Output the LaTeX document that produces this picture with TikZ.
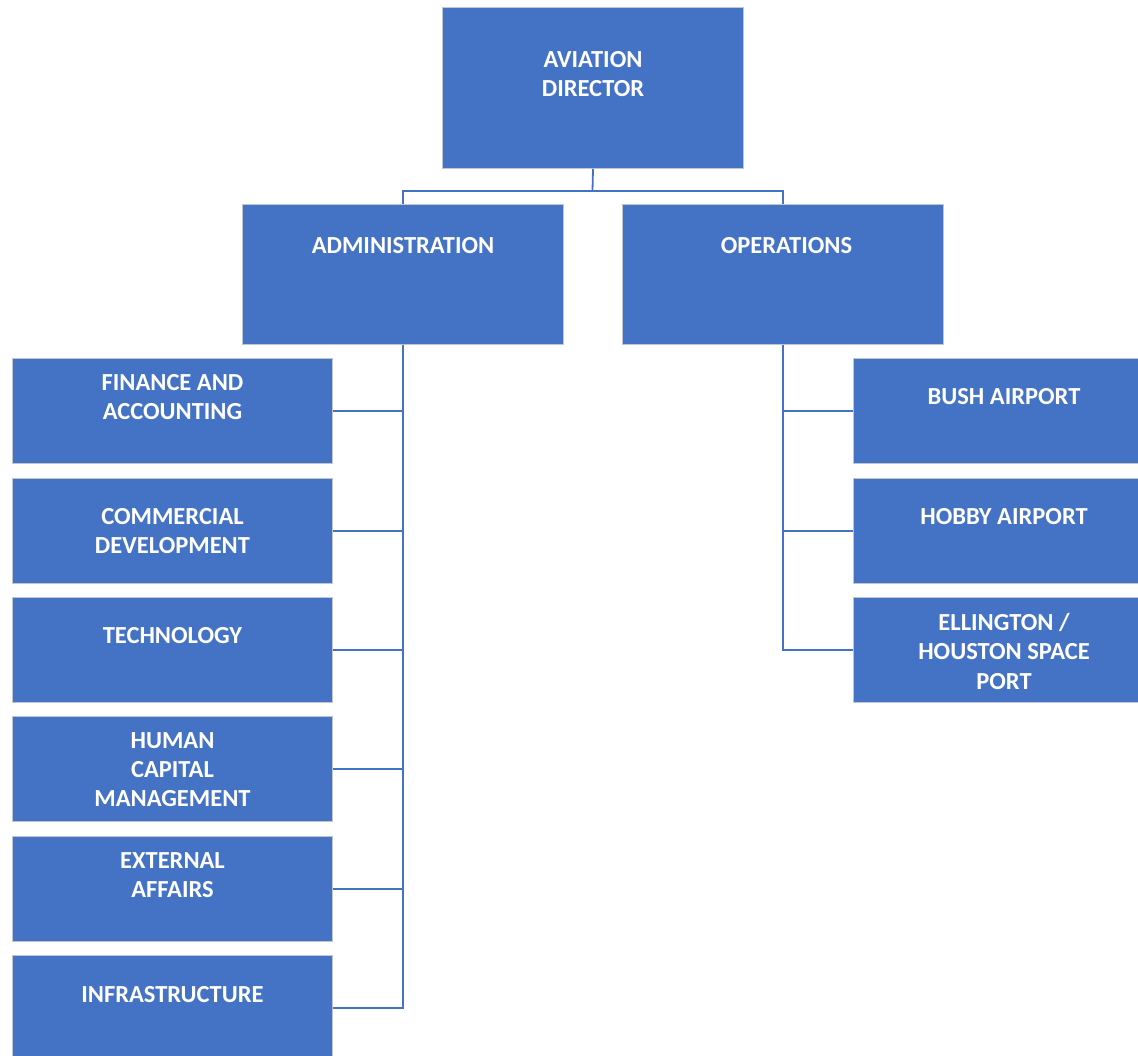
\documentclass[tikz,border=0pt]{standalone}
\usepackage{fontspec}
\setmainfont{Carlito}
\definecolor{boxblue}{HTML}{4472C4}
\definecolor{boxedge}{HTML}{C0C6CF}
\tikzset{
  box/.style={draw=boxedge, line width=1pt, fill=boxblue, anchor=north west, inner sep=0pt,
              minimum width=320pt, minimum height=105pt},
  lbl/.style={anchor=north, inner sep=0pt, text=white, align=center,
              font=\fontsize{24.5}{29.2}\selectfont\bfseries},
  conn/.style={draw=boxblue, line width=1.8pt}
}
\begin{document}
\begin{tikzpicture}[x=1pt,y=-1pt]
\useasboundingbox (0,0) rectangle (1138,1056);
\clip (0,0) rectangle (1138,1056);
% top
\node[box, minimum width=301pt, minimum height=161pt, label={[lbl,yshift=-44.3pt]north:AVIATION\\DIRECTOR}] (dir) at (442,7) {};
\node[box, minimum width=321pt, minimum height=140pt, label={[lbl,yshift=-33.3pt]north:ADMINISTRATION}] (adm) at (242,204) {};
\node[box, minimum width=321pt, minimum height=140pt, label={[lbl,yshift=-33.3pt,xshift=3.5pt]north:OPERATIONS}] (ops) at (622,204) {};
% left column
\node[box, label={[lbl,yshift=-16.3pt]north:FINANCE AND\\ACCOUNTING}] (fin) at (12,358) {};
\node[box, label={[lbl,yshift=-30.3pt]north:COMMERCIAL\\DEVELOPMENT}] (com) at (12,478) {};
\node[box, label={[lbl,yshift=-30.3pt]north:TECHNOLOGY}] (tec) at (12,597) {};
\node[box, label={[lbl,yshift=-16.3pt]north:HUMAN\\CAPITAL\\MANAGEMENT}] (hum) at (12,716) {};
\node[box, label={[lbl,yshift=-16.3pt]north:EXTERNAL\\AFFAIRS}] (ext) at (12,836) {};
\node[box, label={[lbl,yshift=-31.3pt]north:INFRASTRUCTURE}] (inf) at (12,955) {};
% right column
\node[box, label={[lbl,yshift=-30.3pt,xshift=-9.5pt]north:BUSH AIRPORT}] (bus) at (853,358) {};
\node[box, label={[lbl,yshift=-30.3pt,xshift=-9.5pt]north:HOBBY AIRPORT}] (hob) at (853,478) {};
\node[box, label={[lbl,yshift=-16.3pt,xshift=-9.5pt]north:ELLINGTON /\\HOUSTON SPACE\\PORT}] (ell) at (853,597) {};
% connectors
\coordinate (j) at (592.5,191);
\draw[conn] (dir.south) -- (j);
\draw[conn] (adm.north) |- (j) -| (ops.north);
\foreach \n in {fin,com,tec,hum,ext,inf} \draw[conn] (adm.south) |- (\n.east);
\foreach \n in {bus,hob,ell} \draw[conn] (ops.south) |- (\n.west);
\end{tikzpicture}
\end{document}
